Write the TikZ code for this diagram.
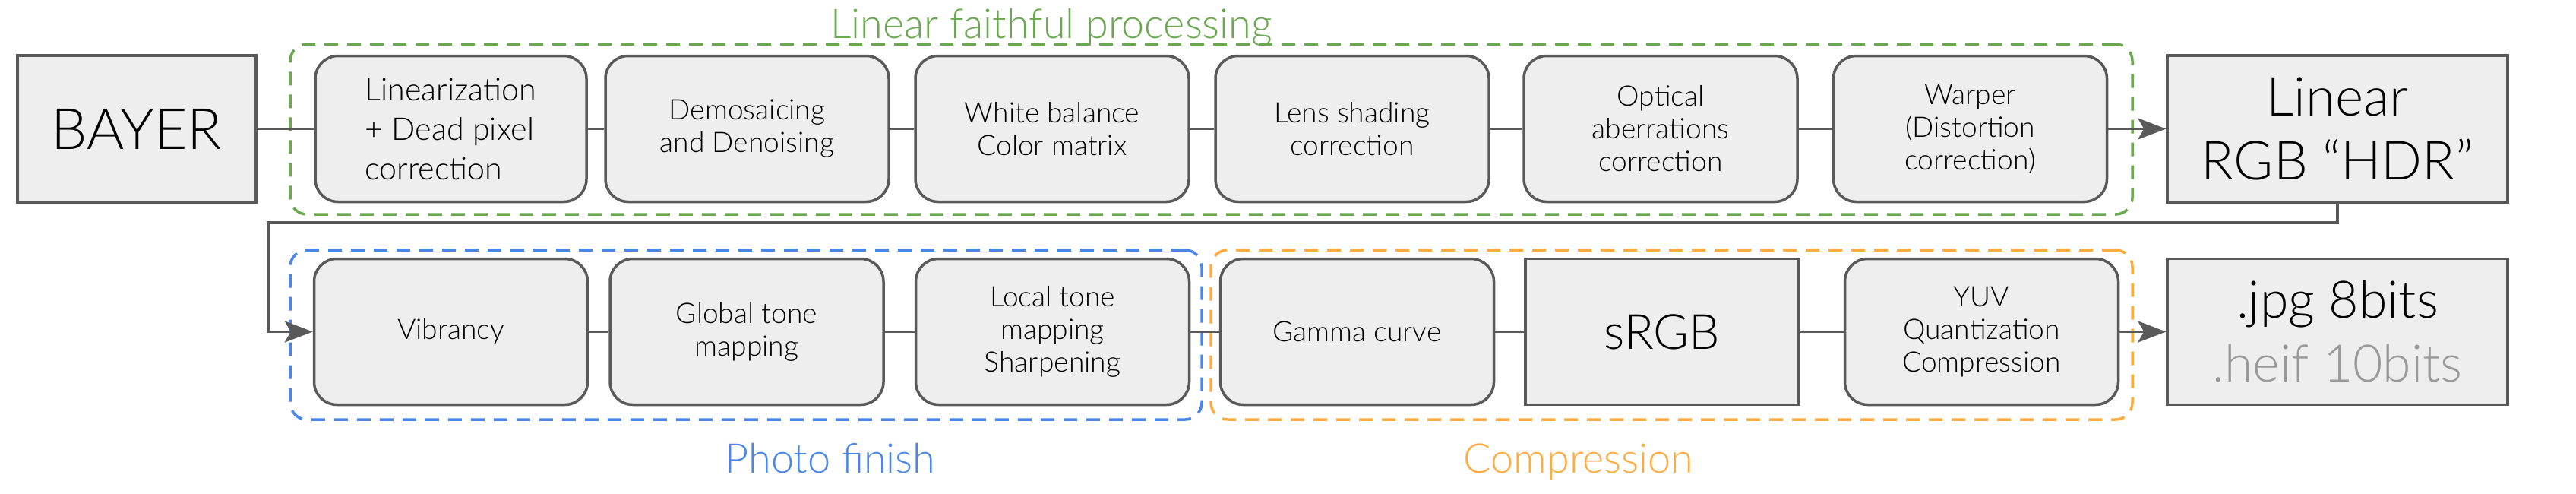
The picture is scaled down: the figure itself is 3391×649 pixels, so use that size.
\documentclass[tikz,border=0pt]{standalone}
\usepackage{fontspec}
\setmainfont{Lato Light}
\usetikzlibrary{arrows.meta}
\definecolor{boxfill}{HTML}{EEEEEE}
\definecolor{boxline}{HTML}{595959}
\definecolor{ggreen}{HTML}{6AA84F}
\definecolor{gblue}{HTML}{4A86E8}
\definecolor{gorange}{HTML}{FFAB40}
\definecolor{ggray}{HTML}{999999}
\begin{document}
\begin{tikzpicture}[x=0.5pt,y=-0.5pt,
  base/.style={draw=boxline, line width=1.75pt, fill=boxfill, inner sep=0pt, align=center, text=black},
  stage/.style={base, rounded corners=15pt, minimum width=180pt, minimum height=96pt, font=\fontsize{18.6}{21.5}\selectfont},
  big/.style={base, minimum height=96.5pt},
  grp/.style={draw=#1, line width=1.75pt, dash pattern=on 9pt off 6pt, rounded corners=11pt, inner sep=0pt},
  conn/.style={draw=boxline, line width=1.75pt},
  arr/.style={conn, -{Stealth[length=18.5pt,width=14pt,inset=4pt]}},
  grplabel/.style={anchor=base, font=\fontsize{27}{30}\selectfont, text=#1}
]
\fill[white] (0,0) rectangle (3391,649);
\useasboundingbox (0,0) rectangle (3391,649);

% groups
\node[grp=ggreen, minimum width=1212.5pt, minimum height=112pt] (g1) at (1594.5,170) {};
\node[grp=gblue, minimum width=600pt, minimum height=111.5pt] (g2) at (982,440.5) {};
\node[grp=gorange, minimum width=606.5pt, minimum height=111.5pt] (g3) at (2200.5,440.5) {};

\node[grplabel=ggreen] (t1) at (1384,50) {Linear faithful processing};
\node[grplabel=gblue] (t2) at (1093,622) {Photo finish};
\node[grplabel=gorange] (t3) at (2078,622) {Compression};

% row 1
\node[big, minimum width=157pt, font=\fontsize{37.5}{44}\selectfont] (bayer) at (180,169.5) {BAYER};
\node[stage, minimum width=178.5pt, align=left, font=\fontsize{20.6}{26}\selectfont] (lin) at (593.5,169.5) {Linearization\\+ Dead pixel\\correction};
\node[stage, minimum width=186.5pt] (demo) at (983.5,169.5) {Demosaicing\\and Denoising};
\node[stage] (wb) at (1385,169.5) {White balance\\Color matrix};
\node[stage] (lens) at (1780,169.5) {Lens shading\\correction};
\node[stage] (opt) at (2186,169.5) {Optical\\aberrations\\correction};
\node[stage] (warp) at (2593.5,169.5) {Warper\\(Distortion\\correction)};
\node[big, minimum width=224pt, font=\fontsize{35.5}{42}\selectfont] (lrgb) at (3077,169.5) {Linear\\RGB “HDR”};

% row 2
\node[stage] (vib) at (593.5,436.5) {Vibrancy};
\node[stage] (glob) at (983,436.5) {Global tone\\mapping};
\node[stage] (loc) at (1385.5,436.5) {Local tone\\mapping\\Sharpening};
\node[stage] (gam) at (1786.5,436.5) {Gamma curve};
\node[big, minimum width=180pt, minimum height=96pt, font=\fontsize{32}{38}\selectfont] (srgb) at (2188,436.5) {sRGB};
\node[stage] (yuv) at (2608.5,436.5) {YUV\\Quantization\\Compression};
\node[big, minimum width=224pt, minimum height=96pt, font=\fontsize{34}{42}\selectfont] (jpg) at (3077,436.5) {.jpg 8bits\\\textcolor{ggray}{.heif 10bits}};

% connectors
\draw[conn] (bayer) -- (lin);
\draw[conn] (lin) -- (demo);
\draw[conn] (demo) -- (wb);
\draw[conn] (wb) -- (lens);
\draw[conn] (lens) -- (opt);
\draw[conn] (opt) -- (warp);
\draw[arr] (warp) -- (lrgb);
\coordinate (fb) at (353,293);
\draw[arr, rounded corners=0pt] (lrgb.south) |- (fb) |- (vib.west);
\draw[conn] (vib) -- (glob);
\draw[conn] (glob) -- (loc);
\draw[conn] (loc) -- (gam);
\draw[conn] (gam) -- (srgb);
\draw[conn] (srgb) -- (yuv);
\draw[arr] (yuv) -- (jpg);
\end{tikzpicture}
\end{document}
